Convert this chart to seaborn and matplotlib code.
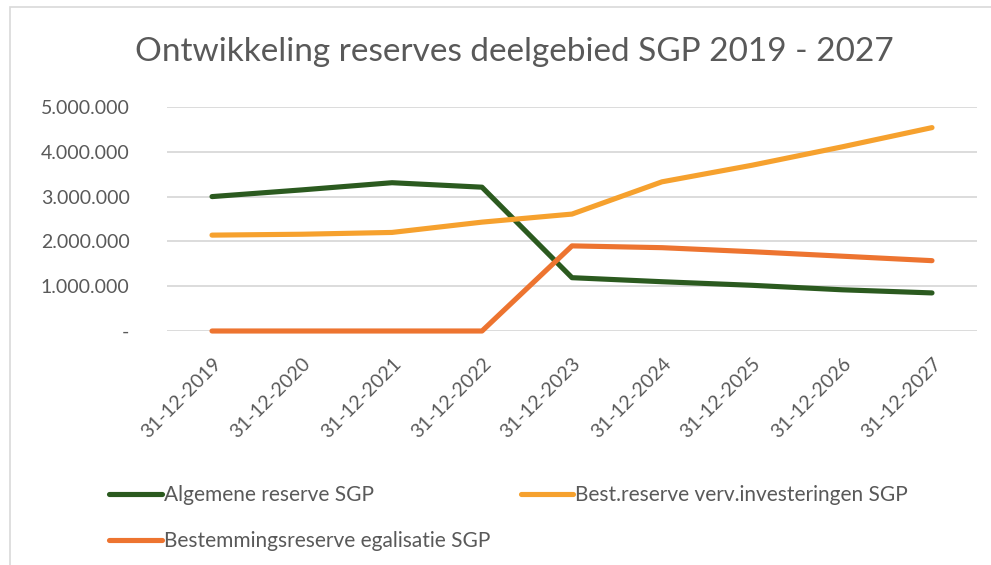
import matplotlib
matplotlib.use("Agg")
import matplotlib.pyplot as plt
import matplotlib.ticker as mticker
from matplotlib.patches import Rectangle
import pandas as pd
import seaborn as sns

DATES = ["31-12-2019", "31-12-2020", "31-12-2021", "31-12-2022", "31-12-2023",
         "31-12-2024", "31-12-2025", "31-12-2026", "31-12-2027"]
ALGEMENE = [3000000, 3150000, 3310000, 3210000, 1190000, 1100000, 1020000, 920000, 850000]
BEST_INVEST = [2140000, 2160000, 2200000, 2430000, 2610000, 3330000, 3700000, 4110000, 4540000]
EGALISATIE = [0, 0, 0, 0, 1900000, 1860000, 1770000, 1670000, 1570000]
SERIES = ["Algemene reserve SGP", "Best.reserve verv.investeringen SGP",
          "Bestemmingsreserve egalisatie SGP"]
COLORS = ["#2B5A1F", "#F6A12E", "#ED7430"]
TITLE = "Ontwikkeling reserves deelgebied SGP 2019 - 2027"

TEXT = "#595959"
GRID = "#D9D9D9"


def dutch_fmt(v, _pos):
    if abs(v) < 1:
        return "-"
    return f"{v:,.0f}".replace(",", ".")


def main():
    df = pd.concat(
        [pd.DataFrame({"datum": DATES, "waarde": vals, "reserve": name})
         for name, vals in zip(SERIES, [ALGEMENE, BEST_INVEST, EGALISATIE])],
        ignore_index=True,
    )

    sns.set_theme(style="white")
    plt.rcParams["font.family"] = ["Lato", "DejaVu Sans"]

    W, H = 991, 565
    fig = plt.figure(figsize=(W / 100, H / 100), dpi=100)
    ax = fig.add_axes([167 / W, 1 - 331 / H, (977 - 167) / W, (331 - 107) / H])

    sns.lineplot(data=df, x="datum", y="waarde", hue="reserve", palette=COLORS,
                 hue_order=SERIES, sort=False, linewidth=3.7, ax=ax,
                 solid_capstyle="round", legend=True)
    for line in ax.get_lines():
        line.set_clip_on(False)
        line.set_zorder(3)

    ax.set_xlim(-0.5, len(DATES) - 0.5)
    ax.set_ylim(0, 5000000)
    ax.yaxis.set_major_locator(mticker.MultipleLocator(1000000))
    ax.yaxis.set_major_formatter(mticker.FuncFormatter(dutch_fmt))
    ax.grid(axis="y", color=GRID, linewidth=1.3)
    ax.set_axisbelow(True)
    for side in ax.spines:
        ax.spines[side].set_visible(False)
    ax.tick_params(axis="y", length=0, pad=27, labelsize=14, labelcolor=TEXT)
    ax.tick_params(axis="x", length=0, pad=17, labelsize=14, labelcolor=TEXT)
    for lab in ax.get_xticklabels():
        lab.set_rotation(45)
        lab.set_ha("right")
        lab.set_rotation_mode("anchor")
    ax.set_xlabel("")
    ax.set_ylabel("")

    # legend fills row by row in the reference
    handles, labels = ax.get_legend_handles_labels()
    ax.get_legend().remove()
    order = [0, 2, 1]
    fig.legend([handles[i] for i in order], [labels[i] for i in order],
               loc="upper left", bbox_to_anchor=(99 / W, 1 - 475 / H),
               ncol=2, frameon=False, fontsize=15, handlelength=2.5,
               handletextpad=0.1, columnspacing=1.5, labelspacing=1.25,
               borderpad=0, labelcolor=TEXT)

    fig.text(514 / W, 1 - 52 / H, TITLE, ha="center", va="center", fontsize=24, color=TEXT)

    fig.add_artist(Rectangle((10 / W, -0.1), 1.2, 1.1 - 7 / H, transform=fig.transFigure,
                             fill=False, edgecolor=GRID, linewidth=1.2, clip_on=False))

    fig.savefig("out.png", dpi=100)
    plt.close(fig)


if __name__ == "__main__":
    main()
